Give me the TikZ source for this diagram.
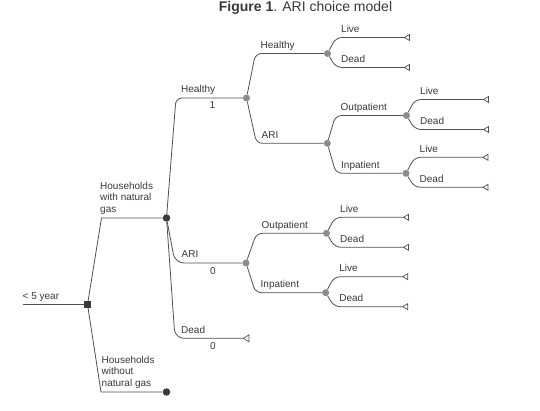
\documentclass[tikz,border=0pt]{standalone}
\usepackage{fontspec}
\setmainfont{Liberation Sans}
\usetikzlibrary{calc}
\definecolor{linegray}{HTML}{505050}
\definecolor{dotgray}{HTML}{8C8C8C}
\definecolor{dotdark}{HTML}{3A3A3A}
\definecolor{textgray}{HTML}{383838}

\begin{document}
\begin{tikzpicture}[x=1pt,y=-1pt,
    branch/.style={draw=linegray,line width=0.8pt,rounded corners=6pt},
    split/.style={draw=linegray,line width=0.8pt},
    chance/.style={circle,fill=dotgray,inner sep=0pt,minimum size=7pt},
    chancedark/.style={circle,fill=dotdark,inner sep=0pt,minimum size=7.5pt},
    decision/.style={rectangle,fill=dotdark,inner sep=0pt,minimum size=7pt},
    tip/.style={draw=linegray,line width=0.7pt,fill=white},
    lbl/.style={inner sep=0pt,anchor=base west,text=textgray,font=\fontsize{10}{11.6}\selectfont},
    lblmulti/.style={lbl,anchor=south west,align=left},
    val/.style={inner sep=0pt,text=textgray,font=\fontsize{10}{11.6}\selectfont}]
    \useasboundingbox (0,0) rectangle (540,411);

    \node[text=textgray,font=\fontsize{14}{16}\selectfont,anchor=base] (title) at (305.5,12) {\textbf{Figure 1}. ARI choice model};

    % decision and chance nodes
    \coordinate (root) at (22.5,304.5);
    \node[decision] (d) at (87.5,304.5) {};
    \node[chancedark] (c1) at (166.5,218) {};
    \node[chancedark] (c2) at (166.5,392) {};
    \node[chance] (h) at (246.5,98) {};
    \node[chance] (a) at (246,263) {};
    \node[chance] (hh) at (327.5,53.5) {};
    \node[chance] (ha) at (327.3,143.3) {};
    \node[chance] (ao) at (326.5,233.3) {};
    \node[chance] (ai) at (325.7,292.7) {};
    \node[chance] (hao) at (406.5,115.5) {};
    \node[chance] (hai) at (406,173.3) {};

    % corners of the branches
    \coordinate (gc) at (101.5,218);
    \coordinate (nc) at (101,392);
    \coordinate (hc) at (176,98);
    \coordinate (ac) at (175,263);
    \coordinate (dc) at (175,338.3);
    \coordinate (dt) at (243.5,338.3);
    \coordinate (hhc) at (255.5,53.5);
    \coordinate (hac) at (256.5,143.3);
    \coordinate (aoc) at (256.5,233.3);
    \coordinate (aic) at (255.5,292.7);
    \coordinate (haoc) at (335.5,115.5);
    \coordinate (haic) at (336,173.3);

    \draw[split] (root) -- (d);
    \draw[split] (d) -- (gc) -- (c1);
    \draw[split] (d) -- (nc) -- (c2);
    \draw[branch] (c1) -- (hc) -- (h);
    \draw[branch,rounded corners=9pt] (c1) -- (ac) -- (a);
    \draw[branch,rounded corners=9pt] (c1) -- (dc) -- (dt);
    \draw[branch] (h) -- (hhc) -- (hh);
    \draw[branch] (h) -- (hac) -- (ha);
    \draw[branch] (a) -- (aoc) -- (ao);
    \draw[branch] (a) -- (aic) -- (ai);
    \draw[branch] (ha) -- (haoc) -- (hao);
    \draw[branch] (ha) -- (haic) -- (hai);
    \draw[tip] (dt) -- ++(5.5,-3.5) -- ++(0,7) -- cycle;

    \node[lbl] (rootlbl) at (22.5,299.5) {< 5 year};
    \node[lblmulti] (gaslbl) at (100,214.5) {Households\\with natural\\gas};
    \node[lblmulti] (nogaslbl) at (101.5,388.5) {Households\\without\\natural gas};
    \node[lbl] (hlbl) at ($(hc)+(5,-5)$) {Healthy};
    \node[lbl] (albl) at ($(ac)+(6.5,-5)$) {ARI};
    \node[lbl] (dlbl) at ($(dc)+(6,-5)$) {Dead};
    \node[val] (hval) at (212.5,105.5) {1};
    \node[val] (aval) at (213,271) {0};
    \node[val] (dval) at (213,346) {0};
    \node[lbl] (hhlbl) at ($(hhc)+(5,-5)$) {Healthy};
    \node[lbl] (halbl) at ($(hac)+(5,-5)$) {ARI};
    \node[lbl] (aolbl) at ($(aoc)+(5,-5)$) {Outpatient};
    \node[lbl] (ailbl) at ($(aic)+(5,-5)$) {Inpatient};
    \node[lbl] (haolbl) at ($(haoc)+(5,-5)$) {Outpatient};
    \node[lbl] (hailbl) at ($(haic)+(5,-5)$) {Inpatient};

    % live / dead leaves
    \foreach \p in {hh,hao,hai,ao,ai}
    {
        \coordinate (\p-lc) at ($(\p)+(8.5,-16)$);
        \coordinate (\p-lt) at ($(\p)+(77,-16)$);
        \coordinate (\p-dc) at ($(\p)+(8.5,14)$);
        \coordinate (\p-dt) at ($(\p)+(77,14)$);
        \draw[branch] (\p) -- (\p-lc) -- (\p-lt);
        \draw[branch] (\p) -- (\p-dc) -- (\p-dt);
        \draw[tip] (\p-lt) -- ++(5,-3) -- ++(0,6) -- cycle;
        \draw[tip] (\p-dt) -- ++(5,-3) -- ++(0,6) -- cycle;
        \node[lbl] (\p-live) at ($(\p-lc)+(5,-5)$) {Live};
        \node[lbl] (\p-dead) at ($(\p-dc)+(5,-5)$) {Dead};
    }
\end{tikzpicture}
\end{document}
